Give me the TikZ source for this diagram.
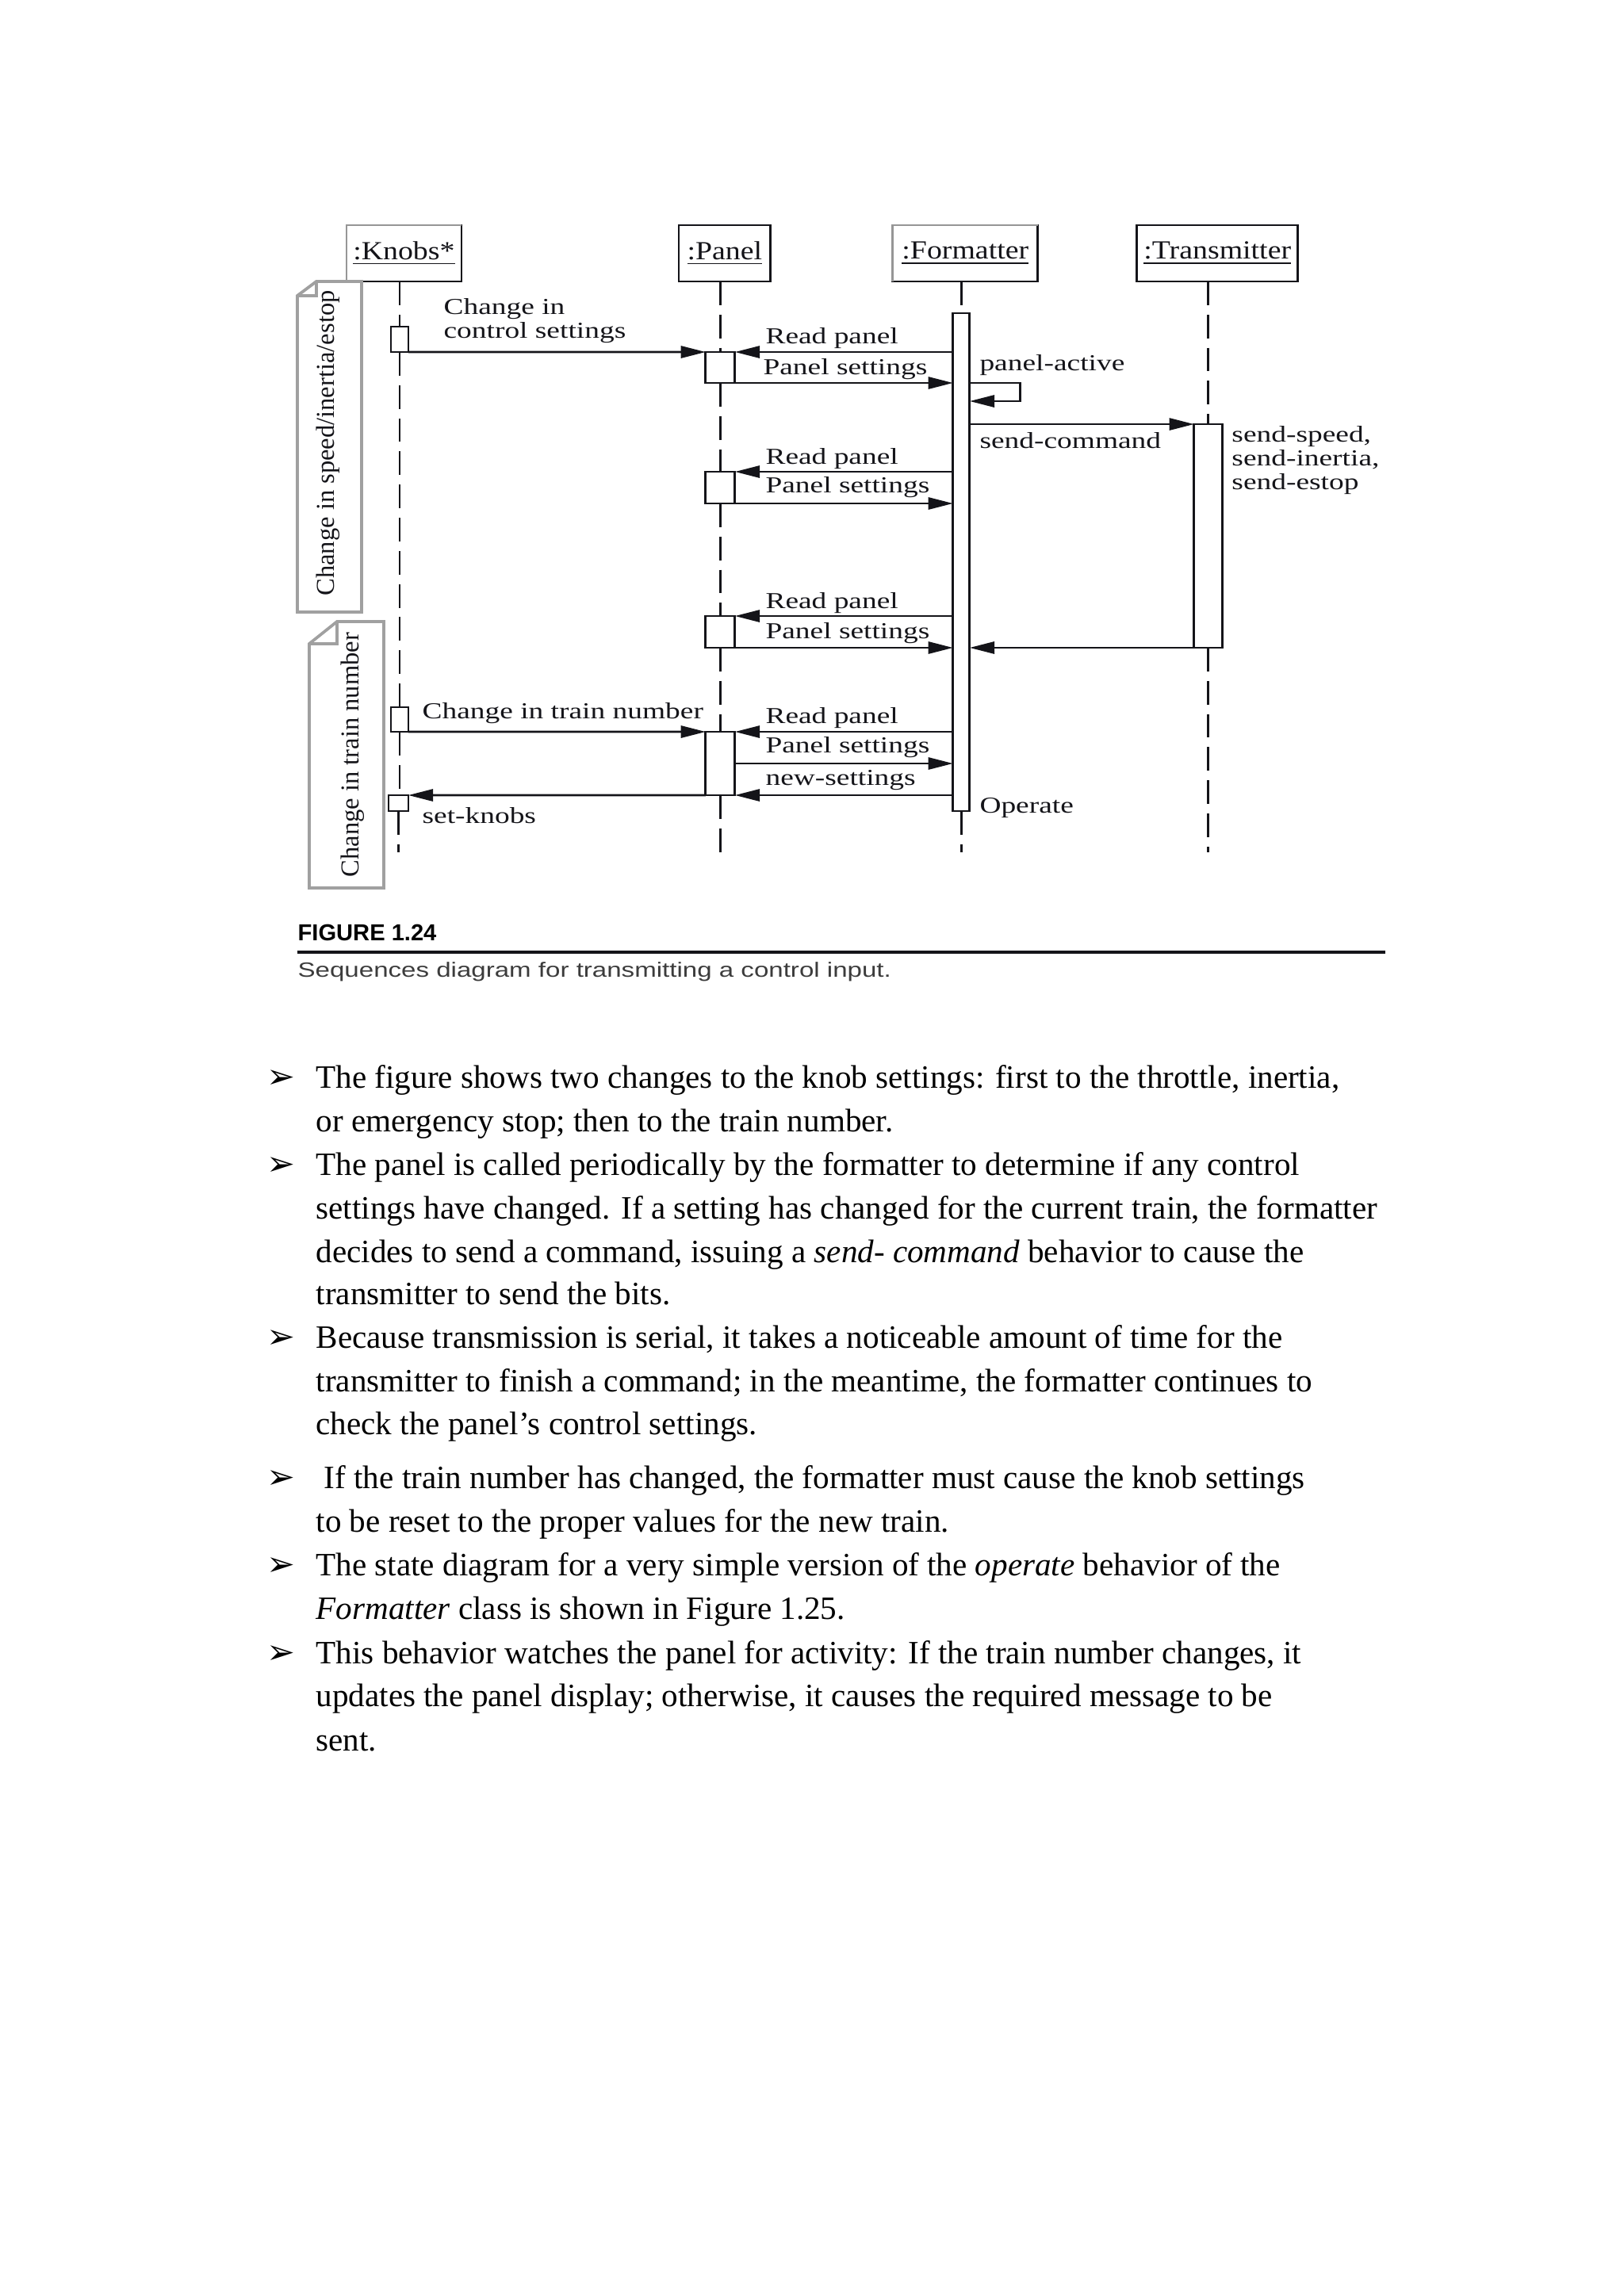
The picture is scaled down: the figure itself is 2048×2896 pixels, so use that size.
\documentclass[tikz,border=0pt]{standalone}
\usepackage{fontspec}
\setmainfont{Liberation Serif}
\newfontfamily\seqfont[FakeStretch=1.3]{Liberation Serif}
\newfontfamily\seqheadfont[FakeStretch=1.15]{Liberation Serif}
\newfontfamily\seqcapfont[FakeStretch=1.27]{Liberation Sans}
\newfontfamily\seqtitlefont{Liberation Sans}
\newfontfamily\seqsymfont{DejaVu Sans}
\usepackage{tikz}
\usetikzlibrary{arrows.meta}
\definecolor{seqInk}{RGB}{20,20,25}
\definecolor{seqNote}{RGB}{160,160,160}
\definecolor{seqShade}{RGB}{150,150,150}
\definecolor{seqCaption}{RGB}{60,60,60}
\newdimen\pxu \pxu=0.10254mm
\tikzset{
  seqhead/.style={draw=seqInk,line width=0.8pt,fill=white,inner sep=0pt,outer sep=0pt,
    font=\seqheadfont\fontsize{9.6}{11}\selectfont,text=seqInk},
  seqlife/.style={draw=seqInk,line width=0.75pt,dash pattern=on 8.7pt off 3.5pt},
  seqact/.style={draw=seqInk,line width=0.8pt,fill=white,inner sep=0pt,outer sep=0pt},
  seqmsg/.style={-{Triangle[length=3.2mm,width=1.55mm]},draw=seqInk,line width=0.8pt},
  seqnote/.style={draw=seqNote,line width=1.1pt,line join=miter},
  seqnotetext/.style={font=\fontsize{9.5}{11}\selectfont,text=seqInk,rotate=90,inner sep=0pt},
  seqlabel/.style={font=\seqfont\fontsize{8.4}{8.7}\selectfont,text=seqInk,anchor=base west,
    inner sep=0pt,align=left},
  seqbody/.style={font=\fontsize{12}{14}\selectfont,text=black,anchor=base west,inner sep=0pt},
  seqbullet/.style={font=\seqsymfont\fontsize{12.5}{14}\selectfont,anchor=base west,inner sep=0pt},
}
\newcommand{\BulletLine}[4]{%
  \node[seqbullet] (#1) at (336,#3) {➢};%
  \node[seqbody] (#2) at (398,#3) {#4};%
}

\begin{document}
\begin{tikzpicture}[x=0.10254mm,y=-0.10255mm]
% Page: 2048 x 2896 px, y runs downwards.
\useasboundingbox (0,0) rectangle (2048,2896);

% Object heads.
\node[seqhead,minimum width=145\pxu,minimum height=71\pxu] (knobs) at (509.5,319.5) {\underline{:Knobs*}};
\node[seqhead,minimum width=116\pxu,minimum height=71\pxu] (panel) at (914,319.5) {\underline{:Panel}};
\node[seqhead,minimum width=183\pxu,minimum height=71\pxu] (fmt) at (1217.5,319.5) {\underline{:Formatter}};
\node[seqhead,minimum width=203\pxu,minimum height=71\pxu] (trans) at (1535.5,319.5) {\underline{:Transmitter}};
\draw[seqShade,line width=0.8pt] (knobs.south west) |- (knobs.north east);
\draw[seqShade,line width=0.8pt] (fmt.south west) |- (fmt.north east);

% Activation bars.
\coordinate (lifeEnd) at (0,1075);
\node[seqact,minimum width=22\pxu,minimum height=32\pxu] (ka1) at (504,428) {};
\node[seqact,minimum width=22\pxu,minimum height=31\pxu] (ka2) at (504,907.5) {};
\node[seqact,minimum width=25\pxu,minimum height=20\pxu] (ka3) at (502.5,1013) {};
\node[seqact,minimum width=37\pxu,minimum height=39\pxu] (pa1) at (908.5,463.5) {};
\node[seqact,minimum width=37\pxu,minimum height=40\pxu] (pa2) at (908.5,615) {};
\node[seqact,minimum width=37\pxu,minimum height=40\pxu] (pa3) at (908.5,797) {};
\node[seqact,minimum width=37\pxu,minimum height=80\pxu] (pa4) at (908.5,963) {};
\node[seqact,minimum width=21\pxu,minimum height=628\pxu] (fa) at (1212.5,709) {};
\node[seqact,minimum width=36\pxu,minimum height=282\pxu] (ta) at (1524,676) {};

% Lifelines between the bars.
\draw[seqlife] (knobs.south -| ka1.center) -- (ka1.north);
\draw[seqlife] (ka1.south) -- (ka2.north);
\draw[seqlife] (ka2.south) -- (ka3.north -| ka2.south);
\draw[seqlife] (ka3.south) -- (ka3.center |- lifeEnd);
\draw[seqlife] (panel.south -| pa1.center) -- (pa1.north);
\draw[seqlife] (pa1.south) -- (pa2.north);
\draw[seqlife] (pa2.south) -- (pa3.north);
\draw[seqlife] (pa3.south) -- (pa4.north);
\draw[seqlife] (pa4.south) -- (pa4.center |- lifeEnd);
\draw[seqlife] (fmt.south -| fa.center) -- (fa.north);
\draw[seqlife] (fa.south) -- (fa.center |- lifeEnd);
\draw[seqlife] (trans.south -| ta.center) -- (ta.north);
\draw[seqlife] (ta.south) -- (ta.center |- lifeEnd);

% Messages.
\coordinate (selfRet) at (1287,506);
\draw[seqmsg] (ka1.south east) -- (pa1.north west);
\draw[seqmsg] (fa.west |- pa1.north east) -- (pa1.north east);
\draw[seqmsg] (pa1.south east) -- (fa.west |- pa1.south east);
\draw[seqmsg] (fa.east |- pa1.south east) -| (selfRet) -- (fa.east |- selfRet);
\draw[seqmsg] (fa.east |- ta.north west) -- (ta.north west);
\draw[seqmsg] (fa.west |- pa2.north east) -- (pa2.north east);
\draw[seqmsg] (pa2.south east) -- (fa.west |- pa2.south east);
\draw[seqmsg] (fa.west |- pa3.north east) -- (pa3.north east);
\draw[seqmsg] (pa3.south east) -- (fa.west |- pa3.south east);
\draw[seqmsg] (ta.south west) -- (fa.east |- ta.south west);
\draw[seqmsg] (ka2.south east) -- (pa4.north west);
\draw[seqmsg] (fa.west |- pa4.north east) -- (pa4.north east);
\draw[seqmsg] (pa4.east) -- (fa.west |- pa4.east);
\draw[seqmsg] (fa.west |- pa4.south east) -- (pa4.south east);
\draw[seqmsg] (pa4.south west) -- (ka3.north east);

% Message labels (multi-line ones sit on their last line).
\node[seqlabel] (lCtrl) at (559,426) {Change in\\control settings};
\node[seqlabel] (lRead1) at (965,433) {Read panel};
\node[seqlabel] (lSet1) at (962,472) {Panel settings};
\node[seqlabel] (lActive) at (1235,467) {panel-active};
\node[seqlabel] (lCmd) at (1235,565) {send-command};
\node[seqlabel] (lSend) at (1553,617) {send-speed,\\send-inertia,\\send-estop};
\node[seqlabel] (lRead2) at (965,585) {Read panel};
\node[seqlabel] (lSet2) at (965,621) {Panel settings};
\node[seqlabel] (lRead3) at (965,767) {Read panel};
\node[seqlabel] (lSet3) at (965,805) {Panel settings};
\node[seqlabel] (lTrain) at (532,906) {Change in train number};
\node[seqlabel] (lRead4) at (965,912) {Read panel};
\node[seqlabel] (lSet4) at (965,949) {Panel settings};
\node[seqlabel] (lNew) at (965,990) {new-settings};
\node[seqlabel] (lKnobs) at (532,1038) {set-knobs};
\node[seqlabel] (lOperate) at (1235,1025) {Operate};

% Notes with folded corner.
\draw[seqnote] (399,355) -- (456,355) -- (456,772) -- (375,772) -- (375,373) -- cycle;
\draw[seqnote] (375,373) -| (399,355);
\node[seqnotetext] (noteA) at (414,559) {Change in speed/inertia/estop};
\draw[seqnote] (425,784) -- (484,784) -- (484,1120) -- (390,1120) -- (390,812) -- cycle;
\draw[seqnote] (390,812) -| (425,784);
\node[seqnotetext] (noteB) at (445,952) {Change in train number};

% Caption.
\node[font=\seqtitlefont\bfseries\fontsize{8.5}{10}\selectfont,anchor=base west,inner sep=0pt] (capNum) at (375,1186) {FIGURE 1.24};
\draw[line width=0.9pt,draw=seqInk] (375,1201) -- (1747,1201);
\node[font=\seqcapfont\fontsize{7.6}{9}\selectfont,text=seqCaption,anchor=base west,inner sep=0pt] (capText) at (375,1232)
  {Sequences diagram for transmitting a control input.};

% Bullet text below the figure.
\BulletLine{b1}{t1}{1372}{The figure shows two changes to the knob settings: first to the throttle, inertia,}
\node[seqbody] (t2) at (398,1427) {or emergency stop; then to the train number.};
\BulletLine{b2}{t3}{1482}{The panel is called periodically by the formatter to determine if any control}
\node[seqbody] (t4) at (398,1537) {settings have changed. If a setting has changed for the current train, the formatter};
\node[seqbody] (t5) at (398,1592) {decides to send a command, issuing a \textit{send- command} behavior to cause the};
\node[seqbody] (t6) at (398,1645) {transmitter to send the bits.};
\BulletLine{b3}{t7}{1700}{Because transmission is serial, it takes a noticeable amount of time for the}
\node[seqbody] (t8) at (398,1755) {transmitter to finish a command; in the meantime, the formatter continues to};
\node[seqbody] (t9) at (398,1809) {check the panel’s control settings.};
\BulletLine{b4}{t10}{1877}{\ If the train number has changed, the formatter must cause the knob settings}
\node[seqbody] (t11) at (398,1932) {to be reset to the proper values for the new train.};
\BulletLine{b5}{t12}{1987}{The state diagram for a very simple version of the \textit{operate} behavior of the}
\node[seqbody] (t13) at (398,2042) {\textit{Formatter} class is shown in Figure 1.25.};
\BulletLine{b6}{t14}{2098}{This behavior watches the panel for activity: If the train number changes, it}
\node[seqbody] (t15) at (398,2152) {updates the panel display; otherwise, it causes the required message to be};
\node[seqbody] (t16) at (398,2208) {sent.};
\end{tikzpicture}
\end{document}
